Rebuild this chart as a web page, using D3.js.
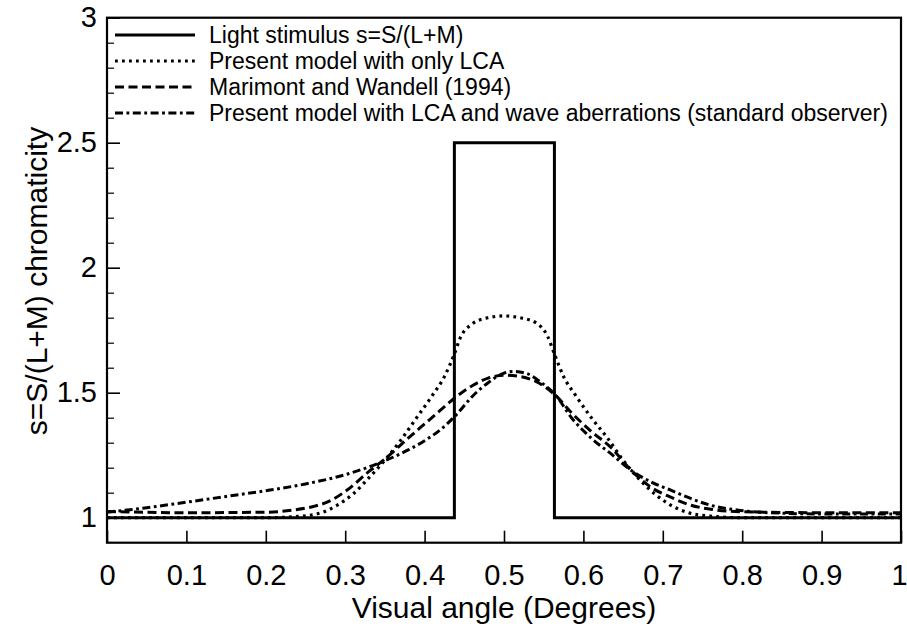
<!DOCTYPE html>
<html>
<head>
<meta charset="utf-8">
<script src="https://cdn.jsdelivr.net/npm/d3@7"></script>
<style>
  html, body { margin: 0; padding: 0; background: #fff; }
  svg { display: block; }
  text { font-family: "Liberation Sans", Arial, Helvetica, sans-serif; fill: #000; }
</style>
</head>
<body>
<svg id="chart" width="907" height="626"></svg>
<script>
// ---------------- data ----------------
const xTicks = [0, 0.1, 0.2, 0.3, 0.4, 0.5, 0.6, 0.7, 0.8, 0.9, 1];
const xTickLabels = ["0", "0.1", "0.2", "0.3", "0.4", "0.5", "0.6", "0.7", "0.8", "0.9", "1"];
const yMajorTicks = [1, 1.5, 2, 2.5, 3];
const yTickLabels = ["1", "1.5", "2", "2.5", "3"];
const yMinorTicks = [1.1, 1.2, 1.3, 1.4, 1.6, 1.7, 1.8, 1.9, 2.1, 2.2, 2.3, 2.4, 2.6, 2.7, 2.8, 2.9];

const seriesNames = [
  "Light stimulus s=S/(L+M)",
  "Present model with only LCA",
  "Marimont and Wandell (1994)",
  "Present model with LCA and wave aberrations (standard observer)"
];

// Light stimulus (step)
const stimX = [0, 0.4375, 0.4375, 0.5635, 0.5635, 1];
const stimY = [1, 1, 2.5, 2.5, 1, 1];

// Present model with only LCA (dotted)
const lcaX = [0, 0.1, 0.2, 0.24, 0.27, 0.29, 0.31, 0.33, 0.35, 0.37, 0.39, 0.41, 0.425, 0.4375, 0.445, 0.46, 0.48, 0.5, 0.52, 0.54, 0.555, 0.5635, 0.575, 0.59, 0.61, 0.63, 0.65, 0.67, 0.69, 0.71, 0.73, 0.76, 0.8, 0.9, 1];
const lcaY = [1.0, 1.0, 1.0, 1.005, 1.02, 1.05, 1.095, 1.16, 1.23, 1.31, 1.40, 1.49, 1.565, 1.655, 1.72, 1.775, 1.80, 1.807, 1.80, 1.78, 1.725, 1.655, 1.565, 1.49, 1.40, 1.32, 1.23, 1.155, 1.095, 1.05, 1.022, 1.006, 1.0, 1.0, 1.0];

// Marimont and Wandell (1994) (dashed)
const mwX = [0, 0.1, 0.2, 0.235, 0.26, 0.28, 0.30, 0.33, 0.35, 0.38, 0.40, 0.42, 0.44, 0.46, 0.48, 0.50, 0.52, 0.54, 0.565, 0.585, 0.61, 0.635, 0.66, 0.685, 0.71, 0.735, 0.76, 0.8, 0.9, 1];
const mwY = [1.025, 1.02, 1.022, 1.031, 1.045, 1.066, 1.105, 1.185, 1.235, 1.32, 1.375, 1.43, 1.484, 1.528, 1.558, 1.57, 1.565, 1.545, 1.489, 1.42, 1.345, 1.28, 1.19, 1.122, 1.082, 1.05, 1.034, 1.024, 1.02, 1.02];

// Present model with LCA and wave aberrations (dash-dot)
const waX = [0, 0.05, 0.1, 0.15, 0.2, 0.25, 0.3, 0.35, 0.38, 0.40, 0.42, 0.44, 0.46, 0.48, 0.50, 0.512, 0.53, 0.545, 0.565, 0.585, 0.61, 0.635, 0.66, 0.685, 0.71, 0.735, 0.76, 0.795, 0.85, 0.9, 1];
const waY = [1.022, 1.04, 1.062, 1.085, 1.108, 1.135, 1.172, 1.228, 1.272, 1.308, 1.352, 1.412, 1.485, 1.54, 1.578, 1.585, 1.575, 1.545, 1.49, 1.40, 1.318, 1.255, 1.19, 1.143, 1.11, 1.077, 1.05, 1.03, 1.018, 1.015, 1.015];

// ---------------- layout ----------------
const plotL = 107, plotR = 901, plotT = 17.7, plotB = 542.7;

const svg = d3.select("#chart");
const x = d3.scaleLinear().domain([0, 1]).range([plotL, plotR]);
const y = d3.scaleLinear().domain([0.9, 3]).range([plotB, plotT]);

const zip = (xs, ys) => xs.map((d, i) => [d, ys[i]]);

const styles = [
  { dash: null, width: 3, cap: "butt" },
  { dash: "2.8 4.2", width: 3.2, cap: "butt" },
  { dash: "9 4.5", width: 3, cap: "butt" },
  { dash: "8 3.5 2.8 3.5", width: 3, cap: "butt" }
];

svg.append("defs").append("clipPath").attr("id", "plotclip")
  .append("rect").attr("x", plotL).attr("y", plotT).attr("width", plotR - plotL).attr("height", plotB - plotT);

const g = svg.append("g").attr("clip-path", "url(#plotclip)");

const smooth = d3.line().x(d => x(d[0])).y(d => y(d[1])).curve(d3.curveMonotoneX);
const straight = d3.line().x(d => x(d[0])).y(d => y(d[1]));

const curves = [
  { data: zip(stimX, stimY), gen: straight, s: styles[0] },
  { data: zip(lcaX, lcaY), gen: smooth, s: styles[1] },
  { data: zip(mwX, mwY), gen: smooth, s: styles[2] },
  { data: zip(waX, waY), gen: smooth, s: styles[3] }
];

[1, 2, 3, 0].forEach(i => {
  const c = curves[i];
  g.append("path")
    .attr("d", c.gen(c.data))
    .attr("fill", "none")
    .attr("stroke", "#000")
    .attr("stroke-width", c.s.width)
    .attr("stroke-linecap", c.s.cap)
    .attr("stroke-linejoin", "miter")
    .attr("stroke-dasharray", c.s.dash);
});

// frame
svg.append("rect")
  .attr("x", plotL).attr("y", plotT).attr("width", plotR - plotL).attr("height", plotB - plotT)
  .attr("fill", "none").attr("stroke", "#000").attr("stroke-width", 2.2);

// x axis ticks (inward) and labels
const xAxis = d3.axisBottom(x).tickValues(xTicks).tickSize(-12).tickPadding(22)
  .tickFormat((d, i) => xTickLabels[i]);
const xg = svg.append("g").attr("transform", `translate(0,${plotB})`).call(xAxis);
xg.select(".domain").remove();
xg.selectAll(".tick line").attr("stroke", "#000").attr("stroke-width", 1.6);
xg.selectAll(".tick text").style("font-size", "29px")
  .style("font-family", '"Liberation Sans", Arial, sans-serif').attr("fill", "#000");
xg.selectAll(".tick text").filter(d => d === 1).attr("dx", "-2");

// y axis: major ticks with labels
const yAxis = d3.axisLeft(y).tickValues(yMajorTicks).tickSize(-13).tickPadding(10)
  .tickFormat((d, i) => yTickLabels[i]);
const yg = svg.append("g").attr("transform", `translate(${plotL},0)`).call(yAxis);
yg.select(".domain").remove();
yg.selectAll(".tick line").attr("stroke", "#000").attr("stroke-width", 1.6);
yg.selectAll(".tick text").style("font-size", "29px")
  .style("font-family", '"Liberation Sans", Arial, sans-serif').attr("fill", "#000");

// y minor ticks
const yMinor = d3.axisLeft(y).tickValues(yMinorTicks).tickSize(-7).tickFormat("");
const ym = svg.append("g").attr("transform", `translate(${plotL},0)`).call(yMinor);
ym.select(".domain").remove();
ym.selectAll(".tick line").attr("stroke", "#000").attr("stroke-width", 1.2);

// axis titles
svg.append("text")
  .attr("x", (plotL + plotR) / 2).attr("y", 618)
  .attr("text-anchor", "middle")
  .style("font-size", "30px")
  .text("Visual angle (Degrees)");

svg.append("text")
  .attr("transform", `translate(47,281) rotate(-90)`)
  .attr("text-anchor", "middle")
  .style("font-size", "30px")
  .text("s=S/(L+M) chromaticity");

// legend
const legRows = [35, 61, 87, 113];
const legend = svg.append("g");
seriesNames.forEach((name, i) => {
  const s = styles[i];
  legend.append("line")
    .attr("x1", 115).attr("x2", 195)
    .attr("y1", legRows[i]).attr("y2", legRows[i])
    .attr("stroke", "#000").attr("stroke-width", s.width)
    .attr("stroke-linecap", s.cap)
    .attr("stroke-dasharray", s.dash);
  legend.append("text")
    .attr("x", 209).attr("y", legRows[i] + 8)
    .style("font-size", "23px")
    .text(name);
});
</script>
</body>
</html>
